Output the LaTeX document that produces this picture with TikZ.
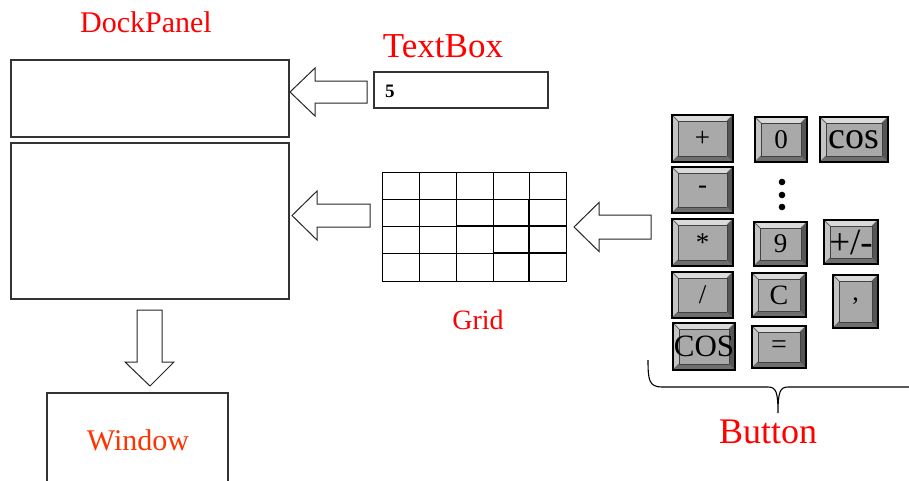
\documentclass[tikz,border=0pt]{standalone}
\usepackage{fontspec}
\setmainfont{Liberation Serif}
\usetikzlibrary{calc}
\definecolor{lblred}{HTML}{FF0000}
\definecolor{winred}{HTML}{FF3300}
\definecolor{keyface}{HTML}{A9A9A9}
\definecolor{keytop}{HTML}{DADADA}
\definecolor{keyleft}{HTML}{C4C4C4}
\definecolor{keybottom}{HTML}{6E6E6E}
\definecolor{keyright}{HTML}{555555}

% calculator key: name, x1, y1, x2, y2, font size, label
\newcommand\calckey[7]{%
  \pgfmathsetmacro\ka{#2+6}\pgfmathsetmacro\kb{#3+6}%
  \pgfmathsetmacro\kc{#4-6}\pgfmathsetmacro\kd{#5-6}%
  \fill[keytop] (#2,#3) -- (#4,#3) -- (\kc,\kb) -- (\ka,\kb) -- cycle;
  \fill[keyleft] (#2,#3) -- (\ka,\kb) -- (\ka,\kd) -- (#2,#5) -- cycle;
  \fill[keybottom] (#2,#5) -- (\ka,\kd) -- (\kc,\kd) -- (#4,#5) -- cycle;
  \fill[keyright] (#4,#3) -- (\kc,\kb) -- (\kc,\kd) -- (#4,#5) -- cycle;
  \draw[fill=keyface, draw=black!75, line width=0.8pt] (\ka,\kb) rectangle (\kc,\kd);
  \draw[line width=0.8pt, black!60] (#2,#3) -- (\ka,\kb) (#4,#3) -- (\kc,\kb)
       (#2,#5) -- (\ka,\kd) (#4,#5) -- (\kc,\kd);
  \draw[line width=1.2pt] (#2,#3) rectangle (#4,#5);
  \node[keytext, font=\fontsize{#6}{#6}\selectfont] (#1) at ({(#2+#4)/2},{(#3+#5)/2}) {#7};
}

% block arrow pointing left: tip x, tip y, head back x, shaft end x, half shaft, half head
\newcommand\leftblock[6]{%
  \draw[blockarrow] (#1,#2) -- (#3,#2-#6) -- (#3,#2-#5) -- (#4,#2-#5)
     -- (#4,#2+#5) -- (#3,#2+#5) -- (#3,#2+#6) -- cycle;
}

\begin{document}
\begin{tikzpicture}[x=1pt, y=-1pt,
  panel/.style={draw=black!80, line width=1.3pt},
  blockarrow/.style={draw=black!85, line width=1pt, fill=white, line join=miter},
  label/.style={text=lblred, inner sep=0pt},
  keytext/.style={inner sep=0pt, text=black},
  gridline/.style={line width=0.9pt},
  gridbold/.style={line width=2pt}]
\useasboundingbox (0,0) rectangle (909,480);

% dock panel parts
\draw[panel] (11,60) rectangle (289,137);
\coordinate (dptop) at (289,92);
\draw[panel] (11,143) rectangle (289,299);
\coordinate (dpfill) at (289,215);

% text box
\draw[panel, line width=1.1pt] (374,72) rectangle (548,108);
\node[inner sep=0pt, anchor=west, font=\fontsize{19}{19}\selectfont\bfseries] (tbtext) at (385,91) {5};

% window
\draw[panel] (47,490) -- (47,393) -- (228,393) -- (228,490);

% labels
\node[label, font=\fontsize{30}{30}\selectfont] (dplabel) at (146,22) {DockPanel};
\node[label, font=\fontsize{35}{35}\selectfont] (tblabel) at (443,46) {TextBox};
\node[label, font=\fontsize{28}{28}\selectfont] (gridlabel) at (478,320) {Grid};
\node[label, text=winred, font=\fontsize{30}{30}\selectfont] (winlabel) at (138,440) {Window};
\node[label, font=\fontsize{36}{36}\selectfont] (btnlabel) at (768,432) {Button};

% grid
\node[draw, line width=0.9pt, minimum width=184pt, minimum height=109pt, inner sep=0pt] (grid) at (474,226.5) {};
\foreach \gx in {419,456,493,529}
  \draw[gridline] (\gx,172) -- (\gx,281);
\foreach \gy in {199,253}
  \draw[gridline] (382,\gy) -- (566,\gy);
\draw[gridline] (382,226) -- (456,226);
\draw[line width=1.4pt] (456,226) -- (493,226);
\draw[gridbold] (493,226) -- (566,226);
\draw[gridbold] (493,253) -- (566,253);
\draw[line width=1.4pt] (529,199) -- (529,281);

% block arrows
\leftblock{290}{92}{315}{367}{11}{24}
\leftblock{292}{215.5}{317}{370}{11.5}{24.5}
\leftblock{574}{227}{599}{651}{12}{24.5}
\draw[blockarrow] (150,386) -- (125,362) -- (137,362) -- (137,310) -- (162,310) -- (162,362) -- (174,362) -- cycle;

% calculator keys
\calckey{kplus}{672}{115}{733}{162}{27}{+}
\calckey{kzero}{755}{117}{807}{162}{27}{0}
\calckey{kcos}{820}{117}{888}{162}{38}{cos}
\calckey{kminus}{672}{167}{733}{213}{27}{-}
\calckey{kmul}{672}{219}{733}{266}{27}{*}
\calckey{knine}{754}{222}{807}{266}{27}{9}
\calckey{ksign}{824}{220}{878}{264}{37}{+/-}
\calckey{kdiv}{672}{272}{733}{318}{27}{/}
\calckey{kclear}{752}{273}{806}{317}{28}{C}
\calckey{kcomma}{833}{275}{878}{328}{26}{,}
\calckey{kCOS}{673}{323}{735}{370}{31}{COS}
\calckey{keq}{752}{326}{806}{368}{28}{=}

% ellipsis between the digit keys
\foreach \dy in {182,195,207}
  \fill (782,\dy) circle (3.3);

% brace under the keys
\draw[line width=1.1pt] (648,360) .. controls (648,380) and (649,387) .. (662,387)
  -- (768,387) .. controls (776,387) and (778,392) .. (778,413)
  .. controls (778,392) and (780,387) .. (788,387) -- (915,387);
\end{tikzpicture}
\end{document}
